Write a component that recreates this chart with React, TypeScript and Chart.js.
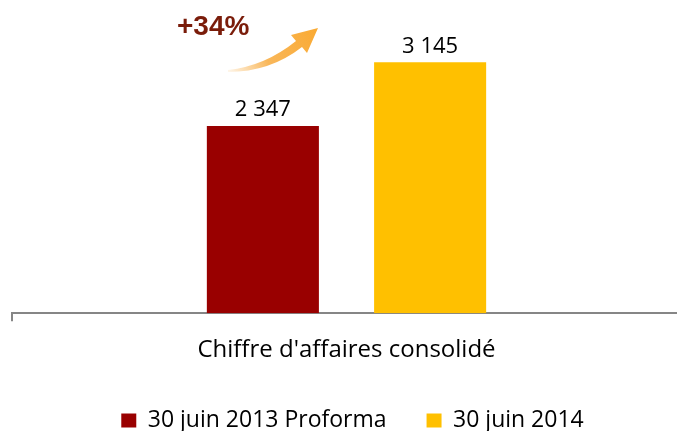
import React, { useEffect, useRef } from "react";
import { Chart, registerables } from "chart.js";

Chart.register(...registerables);

const categories = ["Chiffre d'affaires consolidé"];
const seriesNames = ["30 juin 2013 Proforma", "30 juin 2014"];
const values2013 = [2347];
const values2014 = [3145];
const seriesColors = ["#990000", "#FFC000"];
const growthLabel = "+34%";
const yMax = 3800;

const FONT = "'Open Sans', sans-serif";
const LEGEND_H = 51;
const LEGEND_DX = 6;
const LEGEND_DY = -11;

const fmt = (v: number) => String(v).replace(/\B(?=(\d{3})+(?!\d))/g, " ");

const legendFit = {
  id: "legendFit",
  beforeInit(chart: any) {
    const legend = chart.legend;
    if (!legend) return;
    const origFit = legend.fit;
    legend.fit = function () {
      origFit.call(this);
      this.height = LEGEND_H;
    };
    const origDraw = legend.draw;
    legend.draw = function () {
      const t = this.top, l = this.left, r = this.right;
      this.top = t + LEGEND_DY;
      this.left = l + LEGEND_DX;
      this.right = r + LEGEND_DX;
      origDraw.call(this);
      this.top = t;
      this.left = l;
      this.right = r;
    };
  },
};

const valueLabels = {
  id: "valueLabels",
  afterDatasetsDraw(chart: any) {
    const ctx = chart.ctx;
    ctx.save();
    ctx.font = `22px ${FONT}`;
    ctx.fillStyle = "#000";
    ctx.textAlign = "center";
    ctx.textBaseline = "bottom";
    chart.data.datasets.forEach((ds: any, di: number) => {
      const meta = chart.getDatasetMeta(di);
      meta.data.forEach((bar: any, i: number) => {
        ctx.fillText(fmt(ds.data[i]), bar.x, bar.y - 5);
      });
    });
    ctx.restore();
  },
};

const growthArrow = {
  id: "growthArrow",
  afterDraw(chart: any) {
    const ctx = chart.ctx;
    ctx.save();
    ctx.font = `bold 28px Arial, 'Liberation Sans', sans-serif`;
    ctx.fillStyle = "#7A1C0A";
    ctx.textAlign = "left";
    ctx.textBaseline = "middle";
    ctx.fillText(growthLabel, 177, 27);

    const g = ctx.createLinearGradient(228, 71, 318, 28);
    g.addColorStop(0, "rgba(247,165,49,0.1)");
    g.addColorStop(0.4, "rgba(247,165,49,0.8)");
    g.addColorStop(1, "rgba(250,170,50,1)");
    ctx.fillStyle = g;
    ctx.beginPath();
    ctx.moveTo(228, 70);
    ctx.quadraticCurveTo(265, 66, 296, 41);
    ctx.lineTo(291, 35);
    ctx.lineTo(318, 28);
    ctx.lineTo(307, 53);
    ctx.lineTo(302, 47);
    ctx.quadraticCurveTo(270, 72, 228, 72);
    ctx.closePath();
    ctx.fill();
    ctx.restore();
  },
};

export default function App() {
  const ref = useRef<HTMLCanvasElement>(null);
  useEffect(() => {
    if (!ref.current) return;
    const chart = new Chart(ref.current, {
      type: "bar",
      data: {
        labels: categories,
        datasets: [
          { label: seriesNames[0], data: values2013, backgroundColor: seriesColors[0] },
          { label: seriesNames[1], data: values2014, backgroundColor: seriesColors[1] },
        ],
      },
      options: {
        animation: false,
        responsive: true,
        maintainAspectRatio: false,
        categoryPercentage: 0.5,
        barPercentage: 0.67,
        layout: { padding: { left: 12, right: 0, top: 10, bottom: 0 } },
        plugins: {
          tooltip: { enabled: false },
          legend: {
            position: "bottom",
            labels: {
              boxWidth: 15,
              boxHeight: 14,
              padding: 40,
              color: "#000",
              font: { family: FONT, size: 23 },
            },
          },
        },
        scales: {
          x: {
            grid: {
              offset: true,
              drawOnChartArea: false,
              drawTicks: true,
              tickLength: 8,
              color: "#868686",
              lineWidth: 2,
            },
            border: { display: true, color: "#868686", width: 2 },
            ticks: { color: "#000", padding: 15, font: { family: FONT, size: 24 } },
          },
          y: { display: false, min: 0, max: yMax },
        },
      },
      plugins: [legendFit, valueLabels, growthArrow],
    });
    return () => chart.destroy();
  }, []);
  return (
    <div style={{ position: "fixed", left: 0, top: 0, width: 677, height: 431, overflow: "hidden", background: "#fff" }}>
      <div style={{ width: 681, height: 431, position: "relative" }}>
        <canvas ref={ref} />
      </div>
    </div>
  );
}
